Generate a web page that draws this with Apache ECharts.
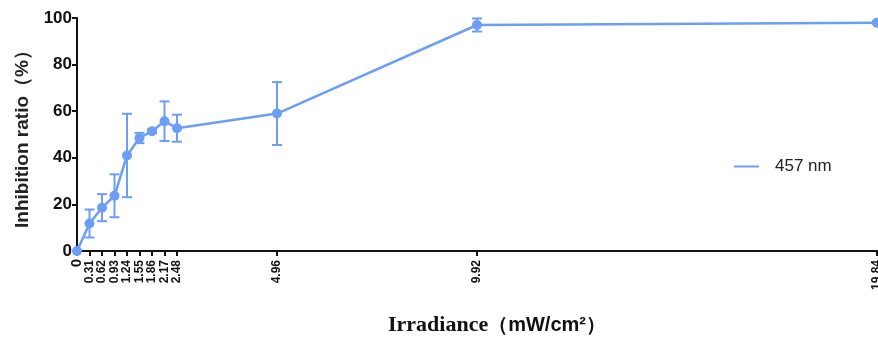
<!DOCTYPE html>
<html>
<head>
<meta charset="utf-8">
<script src="https://cdn.jsdelivr.net/npm/echarts@6/dist/echarts.min.js"></script>
<style>
html,body{margin:0;padding:0;background:#fff;overflow:hidden;}
#chart{width:878px;height:339px;}
</style>
</head>
<body>
<div id="chart"></div>
<script>
const irradiance = [0, 0.31, 0.62, 0.93, 1.24, 1.55, 1.86, 2.17, 2.48, 4.96, 9.92, 19.84];
const inhibition = [0, 11.8, 18.6, 23.7, 41.0, 48.5, 51.4, 55.7, 52.7, 59.0, 97.0, 98.0];
const errorSD = [0, 6.0, 5.8, 9.2, 17.9, 2.2, 0.8, 8.5, 5.8, 13.5, 2.8, 0.5];
const xTickLabels = ['0', '0.31', '0.62', '0.93', '1.24', '1.55', '1.86', '2.17', '2.48', '4.96', '9.92', '19.84'];
const yTicks = [0, 20, 40, 60, 80, 100];
const seriesName = '457 nm';

const color = '#6d9ef7';
const lineData = irradiance.map((x, i) => [x, inhibition[i]]);
const errData = irradiance.map((x, i) => [x, inhibition[i] - errorSD[i], inhibition[i] + errorSD[i]]);
const labelFor = v => { const i = irradiance.indexOf(v); return i >= 0 ? xTickLabels[i] : ''; };

const chart = echarts.init(document.getElementById('chart'));
chart.setOption({
  animation: false,
  backgroundColor: '#fff',
  grid: { left: 77, right: 1, top: 18, bottom: 88, containLabel: false, outerBoundsMode: 'none' },
  legend: {
    data: [{ name: seriesName, icon: 'rect' }],
    left: 729, top: 153,
    itemWidth: 25, itemHeight: 2,
    textStyle: { fontFamily: 'Liberation Sans, Arial', fontSize: 17, color: '#222', padding: [0, 0, 0, 11] }
  },
  xAxis: [{
    type: 'value', min: 0, max: 19.84,
    name: '{a|Irradiance}{b|（mW/cm²）}',
    nameLocation: 'middle', nameGap: 63,
    nameTextStyle: {
      padding: [0, 0, 0, 40],
      rich: {
        a: { fontFamily: 'Liberation Serif, Times New Roman', fontWeight: 'bold', fontSize: 22, color: '#111' },
        b: { fontFamily: 'Liberation Sans, Arial', fontWeight: 'bold', fontSize: 20, color: '#111' }
      }
    },
    splitLine: { show: false },
    axisLine: { lineStyle: { color: '#111', width: 2 } },
    axisTick: { show: true, customValues: irradiance, length: 5, lineStyle: { color: '#111', width: 2 } },
    axisLabel: {
      customValues: irradiance.slice(1),
      showMinLabel: true, showMaxLabel: true, hideOverlap: false,
      rotate: 90, margin: 9,
      fontFamily: 'Liberation Sans, Arial', fontWeight: 'bold', fontSize: 12, lineHeight: 10, color: '#111',
      formatter: labelFor
    }
  }, {
    type: 'value', min: 0, max: 19.84, position: 'bottom',
    splitLine: { show: false }, axisLine: { show: false }, axisTick: { show: false },
    axisLabel: {
      customValues: [irradiance[0]],
      showMinLabel: true, rotate: 90, margin: 8,
      fontFamily: 'Liberation Sans, Arial', fontWeight: 'bold', fontSize: 15, color: '#111',
      formatter: labelFor
    }
  }],
  yAxis: {
    type: 'value', min: 0, max: 100, interval: 20,
    name: 'Inhibition ratio（%）',
    nameLocation: 'middle', nameGap: 44,
    nameTextStyle: { fontFamily: 'Liberation Sans, Arial', fontWeight: 'bold', fontSize: 19, color: '#222' },
    splitLine: { show: false },
    axisLine: { show: true, lineStyle: { color: '#111', width: 2 } },
    axisTick: { show: true, length: 5, lineStyle: { color: '#111', width: 2 } },
    axisLabel: {
      margin: 5, fontFamily: 'Liberation Sans, Arial', fontWeight: 'bold', fontSize: 17, color: '#111',
      formatter: function (v) { return yTicks.indexOf(v) >= 0 ? String(v) : ''; }
    }
  },
  series: [
    {
      name: 'err', type: 'custom', clip: false, z: 1, xAxisIndex: 0,
      data: errData,
      renderItem: function (params, api) {
        const x = api.value(0);
        const lo = api.coord([x, api.value(1)]);
        const hi = api.coord([x, api.value(2)]);
        const w = 5;
        const st = { stroke: color, lineWidth: 2 };
        return {
          type: 'group',
          children: [
            { type: 'line', shape: { x1: lo[0], y1: lo[1], x2: hi[0], y2: hi[1] }, style: st },
            { type: 'line', shape: { x1: lo[0] - w, y1: lo[1], x2: lo[0] + w, y2: lo[1] }, style: st },
            { type: 'line', shape: { x1: hi[0] - w, y1: hi[1], x2: hi[0] + w, y2: hi[1] }, style: st }
          ]
        };
      }
    },
    {
      name: seriesName, type: 'line', clip: false, z: 3, xAxisIndex: 0,
      data: lineData,
      symbol: 'circle', symbolSize: 10,
      lineStyle: { color: color, width: 2.5 },
      itemStyle: { color: color }
    }
  ]
});
</script>
</body>
</html>
